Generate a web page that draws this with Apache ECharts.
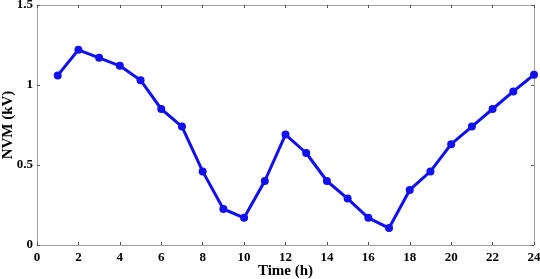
<!DOCTYPE html>
<html>
<head>
<meta charset="utf-8">
<script src="https://cdn.jsdelivr.net/npm/echarts@6/dist/echarts.min.js"></script>
<style>
  html, body { margin: 0; padding: 0; background: #fff; }
  #chart { width: 540px; height: 279px; }
</style>
</head>
<body>
<div id="chart"></div>
<script>
// 时间 (h)
var hours = [1, 2, 3, 4, 5, 6, 7, 8, 9, 10, 11, 12, 13, 14, 15, 16, 17, 18, 19, 20, 21, 22, 23, 24];
// NVM (kV)
var nvm = [1.06, 1.22, 1.17, 1.12, 1.03, 0.85, 0.74, 0.46, 0.225, 0.17, 0.40, 0.69,
           0.575, 0.40, 0.29, 0.17, 0.106, 0.344, 0.46, 0.63, 0.74, 0.85, 0.96, 1.064];

var points = hours.map(function (h, i) { return [h, nvm[i]]; });

var axisFont = { fontFamily: 'Liberation Serif', fontWeight: 'bold', fontSize: 13, color: '#000' };
var nameFont = { fontFamily: 'Liberation Serif', fontWeight: 'bold', fontSize: 15, color: '#000' };
var boxLine = { show: true, onZero: false, lineStyle: { color: '#a0a0a0', width: 1 } };
var tickIn = { show: true, inside: true, length: 3, lineStyle: { color: '#555' } };

var chart = echarts.init(document.getElementById('chart'));
chart.setOption({
  animation: false,
  grid: { left: 37, right: 6, top: 5, bottom: 34, outerBoundsMode: 'none', containLabel: false },
  xAxis: [
    {
      type: 'value', min: 0, max: 24, interval: 2,
      name: 'Time (h)', nameLocation: 'middle', nameGap: 19, nameMoveOverlap: false,
      nameTextStyle: nameFont,
      axisLine: boxLine, axisTick: tickIn,
      axisLabel: Object.assign({ margin: 6 }, axisFont),
      splitLine: { show: false }
    },
    {
      type: 'value', min: 0, max: 24, interval: 2, position: 'top',
      axisLine: boxLine, axisTick: tickIn, axisLabel: { show: false }, splitLine: { show: false }
    }
  ],
  yAxis: [
    {
      type: 'value', min: 0, max: 1.5, interval: 0.5,
      name: 'NVM (kV)', nameLocation: 'middle', nameGap: 21, nameMoveOverlap: false,
      nameTextStyle: nameFont,
      axisLine: boxLine, axisTick: tickIn,
      axisLabel: Object.assign({ margin: 4 }, axisFont),
      splitLine: { show: false }
    },
    {
      type: 'value', min: 0, max: 1.5, interval: 0.5, position: 'right',
      axisLine: boxLine, axisTick: tickIn, axisLabel: { show: false }, splitLine: { show: false }
    }
  ],
  series: [
    {
      type: 'line',
      data: points,
      symbol: 'circle',
      symbolSize: 8,
      lineStyle: { color: '#1010f0', width: 3 },
      itemStyle: { color: '#1010f0' }
    }
  ]
});
</script>
</body>
</html>
